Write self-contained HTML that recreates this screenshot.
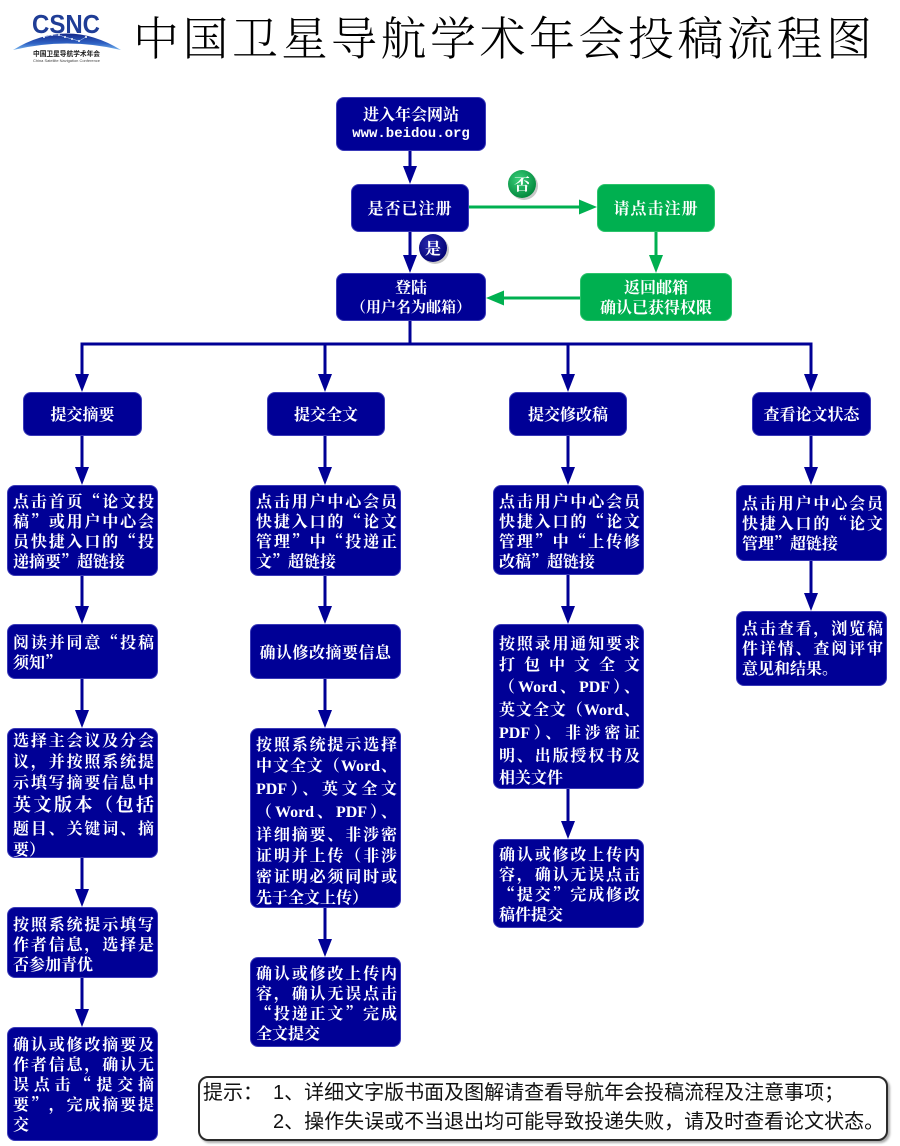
<!DOCTYPE html>
<html><head><meta charset="utf-8">
<style>
html,body{margin:0;padding:0;background:#fff;}
body{width:900px;height:1146px;position:relative;overflow:hidden;}
svg.bg{position:absolute;left:0;top:0;}
.t{position:absolute;left:133px;top:8px;font-family:"Noto Serif CJK SC","Liberation Serif",serif;font-weight:300;font-size:46px;letter-spacing:3.5px;line-height:56px;color:#000;white-space:nowrap;}
.b{position:absolute;box-sizing:border-box;background:#000096;border:1px solid #3a3ab8;border-radius:8px;color:#fff;font-family:"Noto Serif CJK SC","Liberation Serif",serif;font-weight:bold;font-size:16px;padding:0 3px 0 5px;line-height:20px;}
.b div{text-align:justify;text-align-last:justify;}
.b div.e{text-align-last:left;}
.c{display:flex;flex-direction:column;justify-content:center;align-items:center;padding:0;}
.c div{text-align:center;text-align-last:center;white-space:nowrap;}
.g{background:#00b050;border-color:#2cc46c;}
.w{font-family:"Liberation Serif",serif;font-weight:bold;}
.m{font-family:"Liberation Mono",monospace;font-size:14px;font-weight:bold;}
.q{font-feature-settings:"fwid";}
.note{position:absolute;left:198px;top:1076px;width:690px;height:65px;box-sizing:border-box;border:2px solid #2a2a2a;border-radius:10px;box-shadow:2px 2px 2px #aaa;background:#fff;font-family:"Liberation Sans","Noto Sans CJK SC",sans-serif;font-size:20px;line-height:29px;padding:1px 0 0 3px;color:#111;white-space:nowrap;}
.note span.h{display:inline-block;width:70px;}
</style></head>
<body>
<svg class="bg" width="900" height="1146" viewBox="0 0 900 1146">
<defs>
<linearGradient id="arc" x1="0" y1="0" x2="0" y2="1"><stop offset="0" stop-color="#16298a"/><stop offset="0.6" stop-color="#2f62c4"/><stop offset="1" stop-color="#7ab8f0"/></linearGradient>
<radialGradient id="gg" cx="0.4" cy="0.35" r="0.7"><stop offset="0" stop-color="#3ad07a"/><stop offset="1" stop-color="#00853a"/></radialGradient>
<radialGradient id="ng" cx="0.4" cy="0.35" r="0.7"><stop offset="0" stop-color="#2a2ab0"/><stop offset="1" stop-color="#000070"/></radialGradient>
</defs>
<!-- logo -->
<text x="32" y="33" font-family="Liberation Sans" font-weight="bold" font-size="26" fill="#1f3d96" textLength="68" lengthAdjust="spacingAndGlyphs">CSNC</text>
<path d="M13,50 Q67,17 121,50 Q67,37 13,50Z" fill="url(#arc)"/>
<g fill="#fff"><circle cx="44" cy="37" r="1"/><circle cx="52" cy="35" r="1"/><circle cx="59" cy="35" r="1"/><circle cx="65" cy="37" r="1"/><circle cx="72" cy="39" r="1"/><circle cx="79" cy="41" r="1"/><circle cx="86" cy="37" r="1"/></g>
<polyline points="44,37 52,35 59,35 65,37 72,39 79,41 86,37" fill="none" stroke="#cfe3ff" stroke-width="0.5"/>
<text x="33" y="56" font-family="Noto Sans CJK SC, sans-serif" font-weight="bold" font-size="7" fill="#222" textLength="67" lengthAdjust="spacingAndGlyphs">中国卫星导航学术年会</text>
<text x="33" y="62" font-family="Liberation Sans" font-size="4" fill="#444" textLength="67" lengthAdjust="spacingAndGlyphs">China Satellite Navigation Conference</text>

<!-- navy connectors -->
<g stroke="#000096" stroke-width="3" fill="none">
<line x1="410" y1="151" x2="410" y2="168"/>
<line x1="410" y1="232" x2="410" y2="257"/>
<line x1="410" y1="321" x2="410" y2="344"/>
<line x1="80.5" y1="344" x2="812.5" y2="344"/>
<line x1="82" y1="344" x2="82" y2="376"/>
<line x1="325" y1="344" x2="325" y2="376"/>
<line x1="568" y1="344" x2="568" y2="376"/>
<line x1="811" y1="344" x2="811" y2="376"/>
<line x1="82" y1="436" x2="82" y2="469"/>
<line x1="82" y1="576" x2="82" y2="608"/>
<line x1="82" y1="679" x2="82" y2="712"/>
<line x1="82" y1="858" x2="82" y2="891"/>
<line x1="82" y1="978" x2="82" y2="1011"/>
<line x1="325" y1="436" x2="325" y2="469"/>
<line x1="325" y1="576" x2="325" y2="608"/>
<line x1="325" y1="679" x2="325" y2="712"/>
<line x1="325" y1="908" x2="325" y2="941"/>
<line x1="568" y1="436" x2="568" y2="469"/>
<line x1="568" y1="575" x2="568" y2="608"/>
<line x1="568" y1="789" x2="568" y2="823"/>
<line x1="811" y1="436" x2="811" y2="469"/>
<line x1="811" y1="561" x2="811" y2="595"/>
</g>
<g fill="#000096">
<polygon points="403,166 417,166 410,184"/>
<polygon points="403,255 417,255 410,273"/>
<polygon points="75,374 89,374 82,392"/>
<polygon points="318,374 332,374 325,392"/>
<polygon points="561,374 575,374 568,392"/>
<polygon points="804,374 818,374 811,392"/>
<polygon points="75,467 89,467 82,485"/>
<polygon points="75,606 89,606 82,624"/>
<polygon points="75,710 89,710 82,728"/>
<polygon points="75,889 89,889 82,907"/>
<polygon points="75,1009 89,1009 82,1027"/>
<polygon points="318,467 332,467 325,485"/>
<polygon points="318,606 332,606 325,624"/>
<polygon points="318,710 332,710 325,728"/>
<polygon points="318,939 332,939 325,957"/>
<polygon points="561,467 575,467 568,485"/>
<polygon points="561,606 575,606 568,624"/>
<polygon points="561,821 575,821 568,839"/>
<polygon points="804,467 818,467 811,485"/>
<polygon points="804,593 818,593 811,611"/>
</g>
<!-- green connectors -->
<g stroke="#00b050" stroke-width="3" fill="none">
<line x1="469" y1="207" x2="581" y2="207"/>
<line x1="656" y1="232" x2="656" y2="257"/>
<line x1="580" y1="298" x2="502" y2="298"/>
</g>
<g fill="#00b050">
<polygon points="579,199.5 579,214.5 597,207"/>
<polygon points="649,255 663,255 656,273"/>
<polygon points="504,290.5 504,305.5 486,298"/>
</g>
<!-- circles -->
<circle cx="524" cy="186" r="14" fill="#c8c8c8"/>
<circle cx="522" cy="184" r="14" fill="url(#gg)"/>
<text x="522" y="190" text-anchor="middle" font-family="Noto Serif CJK SC, serif" font-weight="bold" font-size="16" fill="#fff">否</text>
<circle cx="435" cy="250" r="14" fill="#c8c8c8"/>
<circle cx="433" cy="248" r="14" fill="url(#ng)"/>
<text x="433" y="254" text-anchor="middle" font-family="Noto Serif CJK SC, serif" font-weight="bold" font-size="16" fill="#fff">是</text>
</svg>

<div class="t">中国卫星导航学术年会投稿流程图</div>

<!-- top flow -->
<div class="b c" style="left:336px;top:97px;width:150px;height:54px;"><div>进入年会网站</div><div class="m">www.beidou.org</div></div>
<div class="b c" style="left:351px;top:184px;width:118px;height:48px;letter-spacing:1px;"><div>是否已注册</div></div>
<div class="b c g" style="left:597px;top:184px;width:118px;height:48px;letter-spacing:1px;"><div>请点击注册</div></div>
<div class="b c" style="left:336px;top:273px;width:150px;height:48px;"><div>登陆</div><div style="font-size:15px;">（用户名为邮箱）</div></div>
<div class="b c g" style="left:580px;top:273px;width:152px;height:48px;"><div>返回邮箱</div><div>确认已获得权限</div></div>

<!-- column headers -->
<div class="b c" style="left:23px;top:392px;width:119px;height:44px;"><div>提交摘要</div></div>
<div class="b c" style="left:267px;top:392px;width:118px;height:44px;"><div>提交全文</div></div>
<div class="b c" style="left:509px;top:392px;width:118px;height:44px;"><div>提交修改稿</div></div>
<div class="b c" style="left:752px;top:392px;width:119px;height:44px;"><div>查看论文状态</div></div>

<!-- column 1 -->
<div class="b" style="left:7px;top:485px;width:151px;height:91px;padding-top:5px;">
<div>点击首页<span class="q">“</span>论文投</div><div>稿<span class="q">”</span>或用户中心会</div><div>员快捷入口的<span class="q">“</span>投</div><div class="e">递摘要<span class="q">”</span>超链接</div></div>
<div class="b" style="left:7px;top:624px;width:151px;height:55px;padding-top:7px;">
<div>阅读并同意<span class="q">“</span>投稿</div><div class="e">须知<span class="q">”</span></div></div>
<div class="b" style="left:7px;top:728px;width:151px;height:130px;padding-top:0;line-height:21px;">
<div>选择主会议及分会</div><div>议，并按照系统提</div><div>示填写摘要信息中</div><div style="font-size:18px;line-height:25px;">英文版本（包括</div><div>题目、关键词、摘</div><div class="e">要）</div></div>
<div class="b" style="left:7px;top:907px;width:151px;height:71px;padding-top:6px;">
<div>按照系统提示填写</div><div>作者信息，选择是</div><div class="e">否参加青优</div></div>
<div class="b" style="left:7px;top:1027px;width:151px;height:114px;padding-top:6px;">
<div>确认或修改摘要及</div><div>作者信息，确认无</div><div>误点击<span class="q">“</span>提交摘</div><div>要<span class="q">”</span>，完成摘要提</div><div class="e">交</div></div>

<!-- column 2 -->
<div class="b" style="left:250px;top:485px;width:151px;height:91px;padding-top:5px;">
<div>点击用户中心会员</div><div>快捷入口的<span class="q">“</span>论文</div><div>管理<span class="q">”</span>中<span class="q">“</span>投递正</div><div class="e">文<span class="q">”</span>超链接</div></div>
<div class="b c" style="left:250px;top:624px;width:151px;height:55px;letter-spacing:0.5px;"><div>确认修改摘要信息</div></div>
<div class="b" style="left:250px;top:728px;width:151px;height:180px;padding-top:4px;line-height:21px;">
<div>按照系统提示选择</div><div>中文全文（<span class="w">Word</span>、</div><div><span class="w">PDF</span>）、英文全文</div><div>（<span class="w">Word</span>、<span class="w">PDF</span>）、</div><div>详细摘要、非涉密</div><div>证明并上传（非涉</div><div>密证明必须同时或</div><div class="e">先于全文上传）</div></div>
<div class="b" style="left:250px;top:957px;width:151px;height:90px;padding-top:5px;">
<div>确认或修改上传内</div><div>容，确认无误点击</div><div><span class="q">“</span>投递正文<span class="q">”</span>完成</div><div class="e">全文提交</div></div>

<!-- column 3 -->
<div class="b" style="left:493px;top:485px;width:151px;height:90px;padding-top:5px;">
<div>点击用户中心会员</div><div>快捷入口的<span class="q">“</span>论文</div><div>管理<span class="q">”</span>中<span class="q">“</span>上传修</div><div class="e">改稿<span class="q">”</span>超链接</div></div>
<div class="b" style="left:493px;top:624px;width:151px;height:165px;padding-top:7px;line-height:21.3px;">
<div>按照录用通知要求</div><div>打包中文全文</div><div>（<span class="w">Word</span>、<span class="w">PDF</span>）、</div><div>英文全文（<span class="w">Word</span>、</div><div><span class="w">PDF</span>）、非涉密证</div><div>明、出版授权书及</div><div class="e">相关文件</div></div>
<div class="b" style="left:493px;top:839px;width:151px;height:89px;padding-top:4px;">
<div>确认或修改上传内</div><div>容，确认无误点击</div><div><span class="q">“</span>提交<span class="q">”</span>完成修改</div><div class="e">稿件提交</div></div>

<!-- column 4 -->
<div class="b" style="left:736px;top:485px;width:151px;height:76px;padding-top:7px;">
<div>点击用户中心会员</div><div>快捷入口的<span class="q">“</span>论文</div><div class="e">管理<span class="q">”</span>超链接</div></div>
<div class="b" style="left:736px;top:611px;width:151px;height:75px;padding-top:6px;">
<div>点击查看，浏览稿</div><div>件详情、查阅评审</div><div class="e">意见和结果。</div></div>

<!-- note -->
<div class="note"><div><span class="h">提示：</span>1、详细文字版书面及图解请查看导航年会投稿流程及注意事项；</div><div><span class="h"></span>2、操作失误或不当退出均可能导致投递失败，请及时查看论文状态。</div></div>
</body></html>
